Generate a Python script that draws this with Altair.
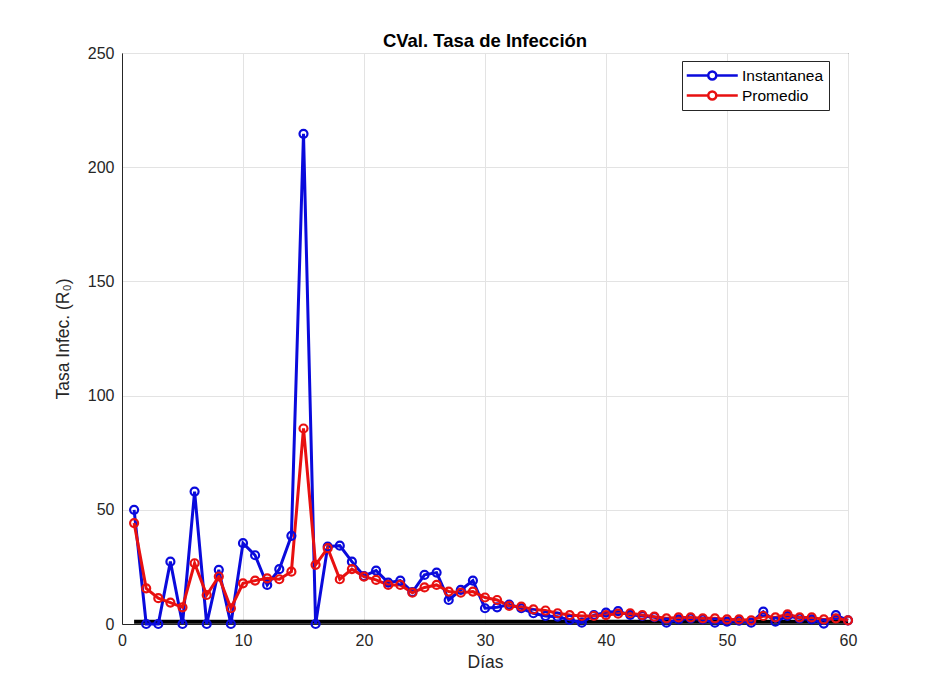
import altair as alt
import pandas as pd

dias = list(range(1, 61))

instantanea = [50, 0, 0, 27.3, 0, 58, 0, 23.7, 0, 35.4,
               30.1, 17.1, 24, 38.6, 214.6, 0, 33.9, 34.3, 27.3, 21,
               23.4, 18.1, 19, 14, 21.5, 22.5, 10.5, 14.9, 19, 6.9,
               7.3, 8.5, 6.9, 4.7, 3.5, 3.2, 1.8, 0.6, 3.9, 5,
               5.6, 4, 3.5, 3, 0.6, 2, 2.5, 2, 0.6, 1,
               1.5, 0.6, 5.4, 1, 3.5, 2.5, 2, 0.2, 3.9, 1.6]

promedio = [44.2, 15.6, 11.3, 9.4, 7.3, 26.6, 12.7, 20.8, 6.9, 17.8,
            19, 20, 19.6, 22.9, 85.6, 25.9, 33.2, 19.6, 24, 20.7,
            19.3, 17.1, 17.1, 13.7, 16, 17.1, 14.2, 13.7, 14.2, 11.6,
            10.5, 7.9, 7.6, 6.4, 5.9, 4.7, 3.9, 3.5, 3.5, 3.9,
            4.5, 4.7, 3.9, 3.2, 2.5, 2.9, 2.9, 2.5, 2.5, 2,
            2, 1.6, 3.5, 2.9, 4.2, 2.9, 2.9, 2, 2.5, 1.6]

umbral = [1] * 60

series_names = ["Instantanea", "Promedio"]
series_colors = ["#0A0ADC", "#E81010"]

df = pd.DataFrame({
    "dia": dias * 2,
    "valor": instantanea + promedio,
    "serie": [series_names[0]] * 60 + [series_names[1]] * 60,
})
df_umbral = pd.DataFrame({"dia": dias, "valor": umbral})

FONT = "Liberation Sans"

x_enc = alt.X("dia:Q",
              scale=alt.Scale(domain=[0, 60], nice=False),
              axis=alt.Axis(title="Días", values=[0, 10, 20, 30, 40, 50, 60],
                            ticks=False, labelPadding=8, titlePadding=5,
                            labelFlush=False, format="d"))
y_enc = alt.Y("valor:Q",
              scale=alt.Scale(domain=[0, 250], nice=False),
              axis=alt.Axis(title="Tasa Infec. (R₀)",
                            values=[0, 50, 100, 150, 200, 250],
                            ticks=False, labelPadding=8, titlePadding=15,
                            labelFlush=False))

# legend glyph: line with a hollow circle marker (unit space, 1 unit = 8 px)
legend_path = ("M-1.22,0L1.47,0 M2.47,0L5.16,0 "
               "M2.47,0 A0.5,0.5 0 1,1 1.47,0 A0.5,0.5 0 1,1 2.47,0")

color_enc = alt.Color("serie:N",
                      scale=alt.Scale(domain=series_names, range=series_colors),
                      legend=alt.Legend(title=None, orient="none",
                                        legendX=560, legendY=8,
                                        symbolType=legend_path,
                                        symbolSize=256,
                                        symbolStrokeWidth=2.5,
                                        symbolFillColor="transparent",
                                        labelOffset=36,
                                        labelFontSize=15.5,
                                        labelColor="#000000",
                                        rowPadding=1,
                                        padding=5,
                                        strokeColor="#262626",
                                        fillColor="#ffffff"))

umbral_line = alt.Chart(df_umbral).mark_line(color="#000000", strokeWidth=4).encode(
    x=x_enc, y=y_enc)

lines = alt.Chart(df).mark_line(strokeWidth=3).encode(
    x=x_enc, y=y_enc, color=color_enc, detail="serie:N")

points = alt.Chart(df).mark_point(filled=False, size=64, strokeWidth=2.2, opacity=1).encode(
    x=x_enc, y=y_enc, color=alt.Color("serie:N",
                                      scale=alt.Scale(domain=series_names, range=series_colors),
                                      legend=None))

chart = alt.layer(umbral_line, lines, points).properties(
    width=726, height=571,
    title=alt.TitleParams("CVal. Tasa de Infección", fontSize=18.5, fontWeight="bold",
                          font=FONT, color="#000000", offset=-5),
    autosize=alt.AutoSizeParams(type="none"),
    padding={"left": 114, "top": 45, "right": 78, "bottom": 68},
).configure_view(
    stroke="#262626", strokeWidth=1
).configure_axis(
    labelFont=FONT, titleFont=FONT, labelFontSize=16, titleFontSize=17.5,
    labelColor="#262626", titleColor="#262626", titleFontWeight="normal",
    gridColor="#e3e3e3", domainColor="#262626", domainWidth=1
).configure_legend(
    labelFont=FONT
)

chart.save("out.html", embed_options={"renderer": "svg", "actions": False})
